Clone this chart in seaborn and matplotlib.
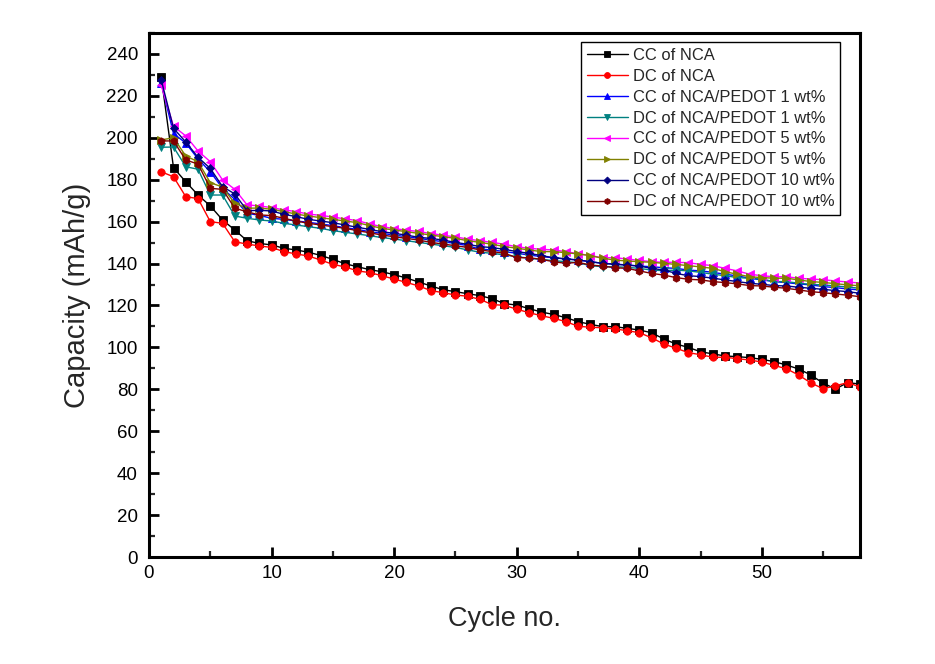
import numpy as np
import pandas as pd
import matplotlib
matplotlib.use("Agg")
import matplotlib.pyplot as plt
from matplotlib.ticker import MultipleLocator
import seaborn as sns

cycles = list(range(1, 59))

cc_nca = [229, 185.7, 179, 172.7, 167.5, 160.8, 156, 150.9, 149.6, 148.9, 147.3, 146.5,
          145.4, 143.9, 142.0, 139.9, 138.5, 137.1, 136.1, 134.7, 133.1, 131.2, 129.3, 127.5,
          126.6, 125.6, 124.7, 123.2, 120.9, 120.2, 118.5, 116.9, 115.7, 114.2, 112.3, 111.0,
          109.9, 109.9, 109.1, 108.3, 107.0,
          104.0, 101.6, 100.0, 97.9, 96.9, 95.9, 95.6, 95.1, 94.3, 93.2, 91.6, 89.7, 86.8,
          82.9, 80.2, 83.2, 82.5]
dc_nca = [183.8, 181.4, 171.9, 171.0, 160.0, 159.2, 150.4, 149.3, 148.4, 147.7, 145.7, 144.6,
          143.6, 141.7, 139.6, 138.4, 136.5, 135.7, 134.2, 132.6, 131.0, 129.3, 127.1, 126.1, 125.0,
          124.4, 122.9, 120.4, 120.1, 118.2, 116.6, 115.1, 113.9, 112.3, 110.1, 109.6, 109.4,
          108.8, 108.0, 107.0, 104.6,
          101.6, 99.6, 97.5, 96.5, 95.3, 95.3, 94.6, 94.0, 93.0, 91.4, 89.8, 86.8, 83.0,
          80.3, 81.7, 83.2, 81.1]
cc_p1 = [226, 202, 197.5, 189.9, 183.8, 175.9, 170.6, 164.0, 163.0,
         161.6, 161.1, 160.3, 159.7, 158.9, 158.1, 157.1, 156.3, 155.2, 154.4, 153.6, 152.8,
         152.0, 151.2, 150.4, 149.6, 148.5,
         146.9, 146.5, 145.7, 144.9, 144.1, 143.3, 142.8, 142.2, 141.7, 140.9, 140.1, 139.8,
         139.3, 138.8, 138.5, 138.0,
         137.7, 136.9, 136.5, 135.8, 134.9, 134.1, 133.0, 132.2, 131.4, 130.9, 130.3, 129.8,
         129.0, 128.5, 127.9, 127.4]
dc_p1 = [195.5, 195.6, 186.2, 185.0, 172.7, 172.7, 162.7, 161.6, 160.8,
         160.3, 159.2, 158.4, 157.6, 156.8, 155.7, 154.9, 154.1, 153.3, 152.4, 151.7, 150.9,
         150.1, 149.3, 148.5, 147.7, 146.5,
         145.4, 144.9, 144.1, 143.3, 142.5, 142.0, 141.4, 140.9, 140.4, 139.0, 138.5, 138.5,
         138.2, 137.7, 136.9, 136.6,
         136.9, 136.5, 135.8, 134.9, 134.2, 133.3, 133.0, 132.6, 131.4, 131.4, 130.6, 130.1,
         129.8, 129.3, 128.8, 128.2]
cc_p5 = [225, 205.5, 200.9, 193.7, 188.6, 179.9, 175.4, 168.0, 167.5,
         166.7, 165.6, 164.8, 163.6, 163.0, 162.2, 161.3, 160.5, 158.9, 157.6, 156.7, 155.9,
         155.3, 154.3, 153.5, 152.7, 151.7,
         150.9, 150.1, 149.2, 148.0, 147.3, 146.8, 146.5, 145.7, 144.7, 143.8, 142.8, 142.8,
         142.2, 141.5, 140.9, 140.6,
         140.6, 140.4, 139.6, 139.0, 137.7, 136.5, 134.9, 134.2, 133.7, 133.7, 133.0, 132.6,
         132.3, 131.7, 131.2, 130.7]
dc_p5 = [199, 200, 191.3, 188.6, 178.6, 176.5, 168.7, 166.4, 166.5,
         165.9, 164.8, 163.6, 162.7, 161.9, 161.1, 160.3, 159.5, 158.1, 156.8, 156.0, 155.2,
         154.4, 153.6, 152.8, 152.0, 150.9,
         150.1, 149.2, 148.1, 147.3, 146.5, 145.7, 145.7, 145.2, 144.6, 143.8, 142.5, 141.7,
         141.2, 140.9, 140.6, 140.1,
         139.6, 139.0, 138.4, 137.7, 136.1, 134.9, 133.7, 133.3, 133.0, 133.0, 132.2, 131.4,
         131.0, 130.4, 129.8, 129.4]
cc_p10 = [227.6, 204.5, 198.0, 190.7, 185.4, 176.7, 173.2, 165.2, 165.4,
          165.1, 163.5, 162.4, 161.1, 160.3, 159.5, 158.4, 157.3, 156.3, 155.2, 154.4, 153.6,
          152.5, 152.0, 151.2, 150.1, 149.2,
          148.1, 147.6, 146.8, 145.7, 144.9, 143.8, 142.8, 142.2, 141.7, 140.9, 140.1, 139.6,
          139.3, 138.8, 137.7, 136.9,
          135.3, 134.2, 133.8, 133.0, 132.2, 131.4, 130.6, 130.1, 129.5, 129.3, 128.7, 128.2,
          127.7, 127.1, 126.6, 125.8]
dc_p10 = [198.5, 198.5, 189.4, 187.5, 175.9, 175.4, 166.4, 164.7, 163.2,
          162.9, 161.6, 160.3, 159.2, 158.4, 157.6, 156.8, 155.7, 154.7, 153.6, 152.8, 152.0,
          151.2, 150.1, 149.3, 148.5, 147.7,
          146.5, 145.7, 144.9, 142.8, 142.8, 142.0, 140.9, 140.1, 140.6, 139.3, 138.8, 138.0,
          137.7, 136.5, 135.3, 134.5,
          133.3, 132.5, 132.2, 131.4, 130.9, 130.3, 129.5, 129.3, 128.7, 128.2, 127.4, 126.6,
          126.1, 125.5, 124.9, 124.2]

labels = ["CC of NCA", "DC of NCA", "CC of NCA/PEDOT 1 wt%", "DC of NCA/PEDOT 1 wt%",
          "CC of NCA/PEDOT 5 wt%", "DC of NCA/PEDOT 5 wt%", "CC of NCA/PEDOT 10 wt%",
          "DC of NCA/PEDOT 10 wt%"]
series = [cc_nca, dc_nca, cc_p1, dc_p1, cc_p5, dc_p5, cc_p10, dc_p10]
colors = ["#000000", "#FF0000", "#0000FF", "#008080", "#FF00FF", "#808000", "#000080", "#800000"]
markers = ["s", "o", "^", "v", "<", ">", "D", "h"]

sns.set_style("ticks")
plt.rcParams["font.family"] = ["Liberation Sans", "DejaVu Sans"]

fig = plt.figure(figsize=(9.35, 6.64), dpi=100)
ax = fig.add_axes([149 / 935, 1 - 557 / 664, 711 / 935, 524 / 664])

for vals, lab, col, mk in zip(series, labels, colors, markers):
    ms = 4.4 if mk == "D" else 5.3
    sns.lineplot(x=cycles, y=vals, ax=ax, color=col, marker=mk, label=lab,
                 linewidth=1.0, markersize=ms, markeredgecolor=col, markeredgewidth=0.6,
                 clip_on=True)

ax.set_xlim(0, 58)
ax.set_ylim(0, 250)
ax.xaxis.set_major_locator(MultipleLocator(10))
ax.xaxis.set_minor_locator(MultipleLocator(5))
ax.yaxis.set_major_locator(MultipleLocator(20))
ax.yaxis.set_minor_locator(MultipleLocator(10))
ax.set_yticks(np.arange(0, 241, 20))

for s in ax.spines.values():
    s.set_linewidth(2.2)
    s.set_color("black")

ax.tick_params(axis="both", which="major", direction="in", length=7, width=2,
               labelsize=13.5, colors="black", top=False, right=False)
ax.tick_params(axis="both", which="minor", direction="in", length=4, width=1.6,
               top=False, right=False)
ax.tick_params(axis="y", which="major", pad=8)
ax.tick_params(axis="x", which="major", pad=6)

ax.set_xlabel("Cycle no.", fontsize=19.5, labelpad=17)
ax.set_ylabel("Capacity (mAh/g)", fontsize=21, labelpad=11)

leg = ax.legend(loc="upper right", bbox_to_anchor=(0.972, 0.983), borderaxespad=0,
                fontsize=11.9, frameon=True, fancybox=False, framealpha=1,
                edgecolor="black", handlelength=2.45, handletextpad=0.3,
                labelspacing=0.36, borderpad=0.35, markerscale=0.8)
leg.get_frame().set_linewidth(1.0)

fig.savefig("out.png", dpi=100)
